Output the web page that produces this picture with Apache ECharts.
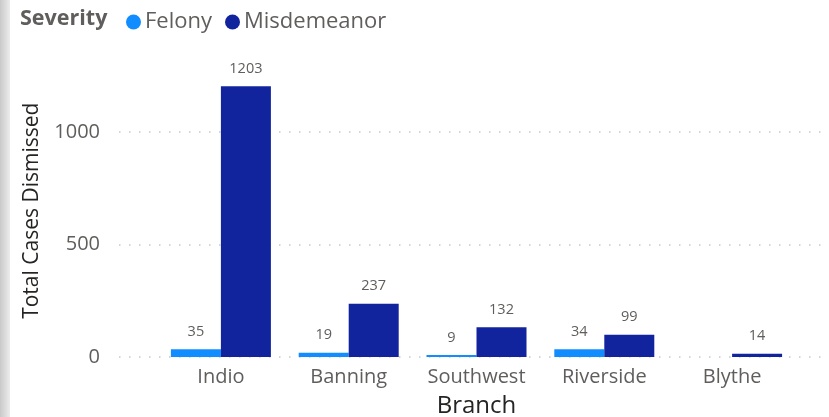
<!DOCTYPE html>
<html>
<head>
<meta charset="utf-8">
<script src="https://cdn.jsdelivr.net/npm/echarts@6/dist/echarts.min.js"></script>
<style>
  html, body { margin: 0; padding: 0; background: #fff; }
  #chart { width: 829px; height: 417px; }
</style>
</head>
<body>
<div id="chart"></div>
<script>
// Dismissed cases per court branch, split by severity
const branches = ['Indio', 'Banning', 'Southwest', 'Riverside', 'Blythe'];
const felony = [35, 19, 9, 34, null];
const misdemeanor = [1203, 237, 132, 99, 14];
const yTicks = [0, 500, 1000];

const FONT = '"Open Sans", "Noto Sans", sans-serif';
const TOP = 64.5, BOTTOM = 60, Y_MAX = 1300;

const chart = echarts.init(document.getElementById('chart'), null, { renderer: 'canvas' });

const labelStyle = {
  show: true,
  position: 'top',
  distance: 10,
  color: '#605e5c',
  fontFamily: FONT,
  fontSize: 14.5,
  formatter: p => (p.value == null ? '' : String(p.value))
};

chart.setOption({
  animation: false,
  backgroundColor: '#fff',
  graphic: [
    {
      type: 'rect',
      shape: { x: 0, y: 0, width: 10, height: 417 },
      style: {
        fill: new echarts.graphic.LinearGradient(0, 0, 1, 0, [
          { offset: 0, color: '#c9c9c9' },
          { offset: 1, color: '#ececec' }
        ])
      },
      z: 10
    },
    {
      type: 'text',
      x: 20,
      y: 19,
      style: {
        text: 'Severity',
        fontFamily: FONT,
        fontWeight: 'bold',
        fontSize: 21.5,
        fill: '#605e5c',
        verticalAlign: 'middle'
      }
    }
  ],
  legend: {
    left: 121,
    top: 6,
    icon: 'circle',
    itemWidth: 15,
    itemHeight: 15,
    itemGap: 13,
    textStyle: { fontFamily: FONT, fontSize: 22, color: '#605e5c', padding: [0, 0, 0, -1] },
    data: ['Felony', 'Misdemeanor']
  },
  grid: [
    { left: 119, right: 0, top: TOP, bottom: BOTTOM, outerBoundsMode: 'none', containLabel: false },
    { left: 157, right: 33, top: TOP, bottom: BOTTOM, outerBoundsMode: 'none', containLabel: false }
  ],
  xAxis: [
    { type: 'value', gridIndex: 0, show: false, min: 0, max: 1 },
    {
      type: 'category',
      gridIndex: 1,
      data: branches,
      axisLine: { show: false },
      axisTick: { show: false },
      axisLabel: { color: '#605e5c', fontFamily: FONT, fontSize: 20, margin: 10 },
      name: 'Branch',
      nameLocation: 'middle',
      nameGap: 37,
      nameTextStyle: { color: '#252423', fontFamily: FONT, fontSize: 24 }
    }
  ],
  yAxis: [
    {
      type: 'value',
      gridIndex: 0,
      min: 0,
      max: Y_MAX,
      interval: 500,
      axisLine: { show: false },
      axisTick: { show: false },
      axisLabel: {
        color: '#605e5c',
        fontFamily: FONT,
        fontSize: 20,
        margin: 19,
        showMaxLabel: false,
        formatter: v => (yTicks.includes(v) ? String(v) : '')
      },
      splitLine: {
        show: true,
        showMaxLine: false,
        lineStyle: { color: '#c8c8c8', width: 1.5, type: [1.5, 8.5] }
      },
      name: 'Total Cases Dismissed',
      nameLocation: 'middle',
      nameGap: 76,
      nameTextStyle: { color: '#252423', fontFamily: FONT, fontSize: 21 }
    },
    {
      type: 'value',
      gridIndex: 1,
      min: 0,
      max: Y_MAX,
      show: false,
      splitLine: { show: false }
    }
  ],
  series: [
    {
      name: 'Felony',
      type: 'bar',
      xAxisIndex: 1,
      yAxisIndex: 1,
      data: felony,
      barWidth: 50,
      barGap: '0%',
      itemStyle: { color: '#118dff' },
      label: labelStyle
    },
    {
      name: 'Misdemeanor',
      type: 'bar',
      xAxisIndex: 1,
      yAxisIndex: 1,
      data: misdemeanor,
      barWidth: 50,
      barGap: '0%',
      itemStyle: { color: '#12239e' },
      label: labelStyle
    }
  ]
});
</script>
</body>
</html>
